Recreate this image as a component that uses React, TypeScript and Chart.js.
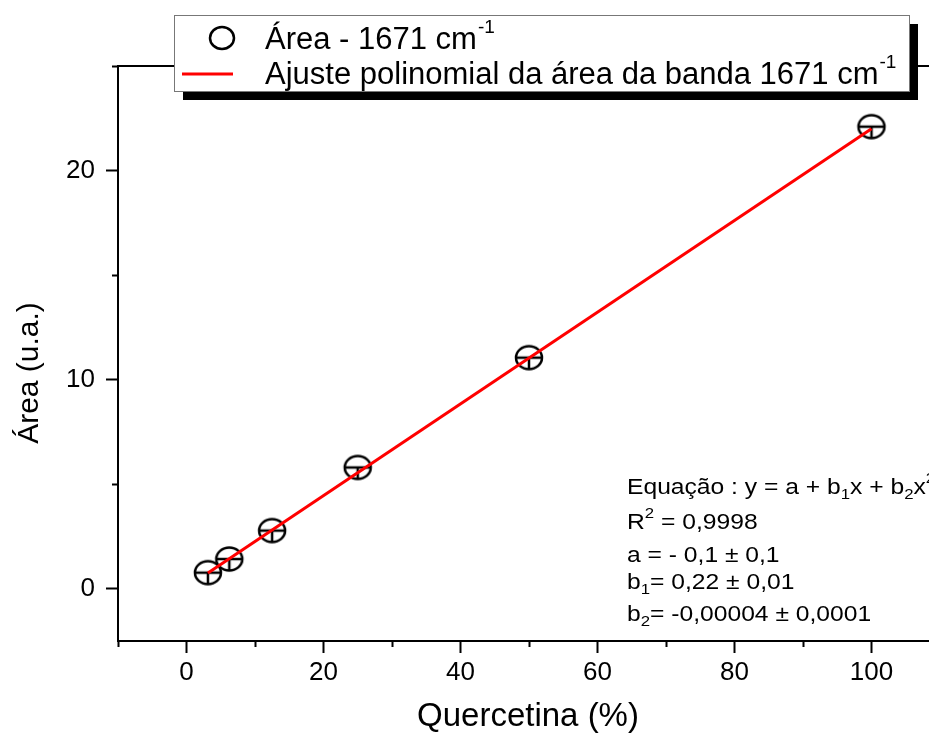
import React, { useEffect, useRef } from 'react';
import { Chart, registerables } from 'chart.js';

Chart.register(...registerables);

// ---- data ----
const quercetina = [3.125, 6.25, 12.5, 25, 50, 100];
const area = [0.77, 1.42, 2.78, 5.8, 11.05, 22.1];
const fitX = [3.125, 100];
const fitY = [0.75, 22.0];
const xMajorTicks = [0, 20, 40, 60, 80, 100];
const xMinorTicks = [-10, 10, 30, 50, 70, 90, 110];
const yMajorTicks = [0, 10, 20];
const yMinorTicks = [5, 15, 25];
const seriesLabel = 'Área - 1671 cm';
const fitLabel = 'Ajuste polinomial da área da banda 1671 cm';
const unitSup = '-1';
const xTitle = 'Quercetina (%)';
const yTitle = 'Área (u.a.)';

type Seg = { t: string; sub?: boolean; sup?: boolean };
const annotationLines: Seg[][] = [
  [{ t: 'Equação : y = a + b' }, { t: '1', sub: true }, { t: 'x + b' }, { t: '2', sub: true }, { t: 'x' }, { t: '2', sup: true }],
  [{ t: 'R' }, { t: '2', sup: true }, { t: ' = 0,9998' }],
  [{ t: 'a = - 0,1 ± 0,1' }],
  [{ t: 'b' }, { t: '1', sub: true }, { t: '= 0,22 ± 0,01' }],
  [{ t: 'b' }, { t: '2', sub: true }, { t: '= -0,00004 ± 0,0001' }],
];
const annotationY = [488, 523, 556, 583, 615];

const FONT = '"Liberation Sans", Arial, Helvetica, sans-serif';

function makeMarker(): HTMLCanvasElement {
  const c = document.createElement('canvas');
  c.width = 32;
  c.height = 30;
  const g = c.getContext('2d')!;
  g.strokeStyle = '#000';
  g.lineWidth = 2.5;
  g.beginPath();
  g.ellipse(16, 15, 13, 11.5, 0, 0, Math.PI * 2);
  g.stroke();
  g.beginPath();
  g.moveTo(3, 15);
  g.lineTo(29, 15);
  g.moveTo(16, 15);
  g.lineTo(16, 26.5);
  g.stroke();
  return c;
}

function drawRich(ctx: CanvasRenderingContext2D, segs: Seg[], x: number, y: number, size: number, sx: number) {
  ctx.save();
  ctx.translate(x, y);
  ctx.scale(sx, 1);
  let cx = 0;
  for (const s of segs) {
    const fs = s.sub || s.sup ? Math.round(size * 0.68) : size;
    ctx.font = `${fs}px ${FONT}`;
    const dy = s.sub ? size * 0.3 : s.sup ? -size * 0.42 : 0;
    ctx.fillText(s.t, cx, dy);
    cx += ctx.measureText(s.t).width;
  }
  ctx.restore();
}

const decorPlugin = {
  id: 'decor',
  afterDraw(chart: any) {
    const ctx: CanvasRenderingContext2D = chart.ctx;
    const { left, right, top, bottom } = chart.chartArea;
    const xs = chart.scales.x;
    const ys = chart.scales.y;
    ctx.save();
    // frame
    ctx.strokeStyle = '#000';
    ctx.lineWidth = 2;
    ctx.strokeRect(left, top, right - left, bottom - top);
    // minor ticks
    ctx.beginPath();
    for (const v of xMinorTicks) {
      const px = Math.round(xs.getPixelForValue(v)) + 0.5;
      ctx.moveTo(px, bottom);
      ctx.lineTo(px, bottom + 6);
    }
    for (const v of yMinorTicks) {
      const py = Math.round(ys.getPixelForValue(v)) + 0.5;
      ctx.moveTo(left, py);
      ctx.lineTo(left - 6, py);
    }
    ctx.stroke();

    // annotation
    ctx.fillStyle = '#000';
    ctx.textBaseline = 'middle';
    ctx.textAlign = 'left';
    annotationLines.forEach((segs, i) => drawRich(ctx, segs, 627, annotationY[i], 22, 1.12));

    // axis titles
    ctx.textAlign = 'center';
    ctx.font = `33px ${FONT}`;
    ctx.fillText(xTitle, 528, 717);
    ctx.save();
    ctx.translate(30, 373);
    ctx.rotate(-Math.PI / 2);
    ctx.font = `30px ${FONT}`;
    ctx.fillText(yTitle, 0, 0);
    ctx.restore();

    // legend
    const bx = 174, by = 15, bw = 735, bh = 76;
    ctx.fillStyle = '#000';
    ctx.fillRect(bx + 9, by + 9, bw, bh);
    ctx.fillStyle = '#fff';
    ctx.fillRect(bx, by, bw, bh);
    ctx.strokeStyle = '#777';
    ctx.lineWidth = 1;
    ctx.strokeRect(bx + 0.5, by + 0.5, bw, bh);
    // marker
    ctx.strokeStyle = '#000';
    ctx.lineWidth = 2.5;
    ctx.beginPath();
    ctx.ellipse(222, 38, 12, 11, 0, 0, Math.PI * 2);
    ctx.stroke();
    // red line
    ctx.strokeStyle = '#ff0000';
    ctx.lineWidth = 3;
    ctx.beginPath();
    ctx.moveTo(182, 74);
    ctx.lineTo(233, 74);
    ctx.stroke();
    ctx.fillStyle = '#000';
    ctx.textAlign = 'left';
    ctx.textBaseline = 'middle';
    const labels = [chart.data.datasets[0].label, chart.data.datasets[1].label];
    const rowsY = [40, 75];
    labels.forEach((lab: string, i: number) => {
      ctx.font = `31px ${FONT}`;
      ctx.fillText(lab, 265, rowsY[i]);
      const w = ctx.measureText(lab).width;
      ctx.font = `19px ${FONT}`;
      ctx.fillText(unitSup, 265 + w + 1, rowsY[i] - 12);
    });
    ctx.restore();
  },
};

export default function App() {
  const ref = useRef<HTMLCanvasElement>(null);
  useEffect(() => {
    if (!ref.current) return;
    const marker = makeMarker();
    const chart = new Chart(ref.current, {
      type: 'scatter',
      data: {
        datasets: [
          {
            label: seriesLabel,
            data: quercetina.map((x, i) => ({ x, y: area[i] })),
            pointStyle: marker as any,
            pointRadius: 14,
            showLine: false,
            order: 2,
          },
          {
            label: fitLabel,
            data: fitX.map((x, i) => ({ x, y: fitY[i] })),
            showLine: true,
            borderColor: '#ff0000',
            borderWidth: 3,
            pointRadius: 0,
            order: 1,
          } as any,
        ],
      },
      options: {
        responsive: false,
        animation: false,
        layout: { padding: { top: 66, right: 20, left: 0, bottom: 0 } },
        plugins: { legend: { display: false }, tooltip: { enabled: false } },
        scales: {
          x: {
            type: 'linear',
            min: -10,
            max: 110,
            border: { display: false },
            grid: {
              drawOnChartArea: false,
              tickLength: 12,
              tickWidth: 2,
              tickColor: (c: any) => (xMajorTicks.includes(c.tick?.value) ? '#000' : 'rgba(0,0,0,0)'),
            },
            ticks: {
              stepSize: 10,
              padding: 4,
              color: '#000',
              font: { family: FONT, size: 26 },
              maxRotation: 0,
              autoSkip: false,
              includeBounds: false,
              callback: (v: any) => (xMajorTicks.includes(Number(v)) ? String(v) : ''),
            },
            afterFit: (s: any) => {
              s.height = 92;
            },
          },
          y: {
            type: 'linear',
            min: -2.5,
            max: 25,
            border: { display: false },
            grid: {
              drawOnChartArea: false,
              tickLength: 12,
              tickWidth: 2,
              tickColor: (c: any) => (yMajorTicks.includes(c.tick?.value) ? '#000' : 'rgba(0,0,0,0)'),
            },
            ticks: {
              stepSize: 5,
              padding: 11,
              color: '#000',
              font: { family: FONT, size: 26 },
              autoSkip: false,
              includeBounds: false,
              callback: (v: any) => (yMajorTicks.includes(Number(v)) ? String(v) : ''),
            },
            afterFit: (s: any) => {
              s.width = 118;
            },
          },
        },
      } as any,
      plugins: [decorPlugin],
    });
    return () => chart.destroy();
  }, []);

  return (
    <div
      style={{
        position: 'fixed',
        left: 0,
        top: 0,
        width: 929,
        height: 733,
        overflow: 'hidden',
        background: '#fff',
      }}
    >
      <canvas ref={ref} width={960} height={733} style={{ display: 'block', width: 960, height: 733 }} />
    </div>
  );
}
